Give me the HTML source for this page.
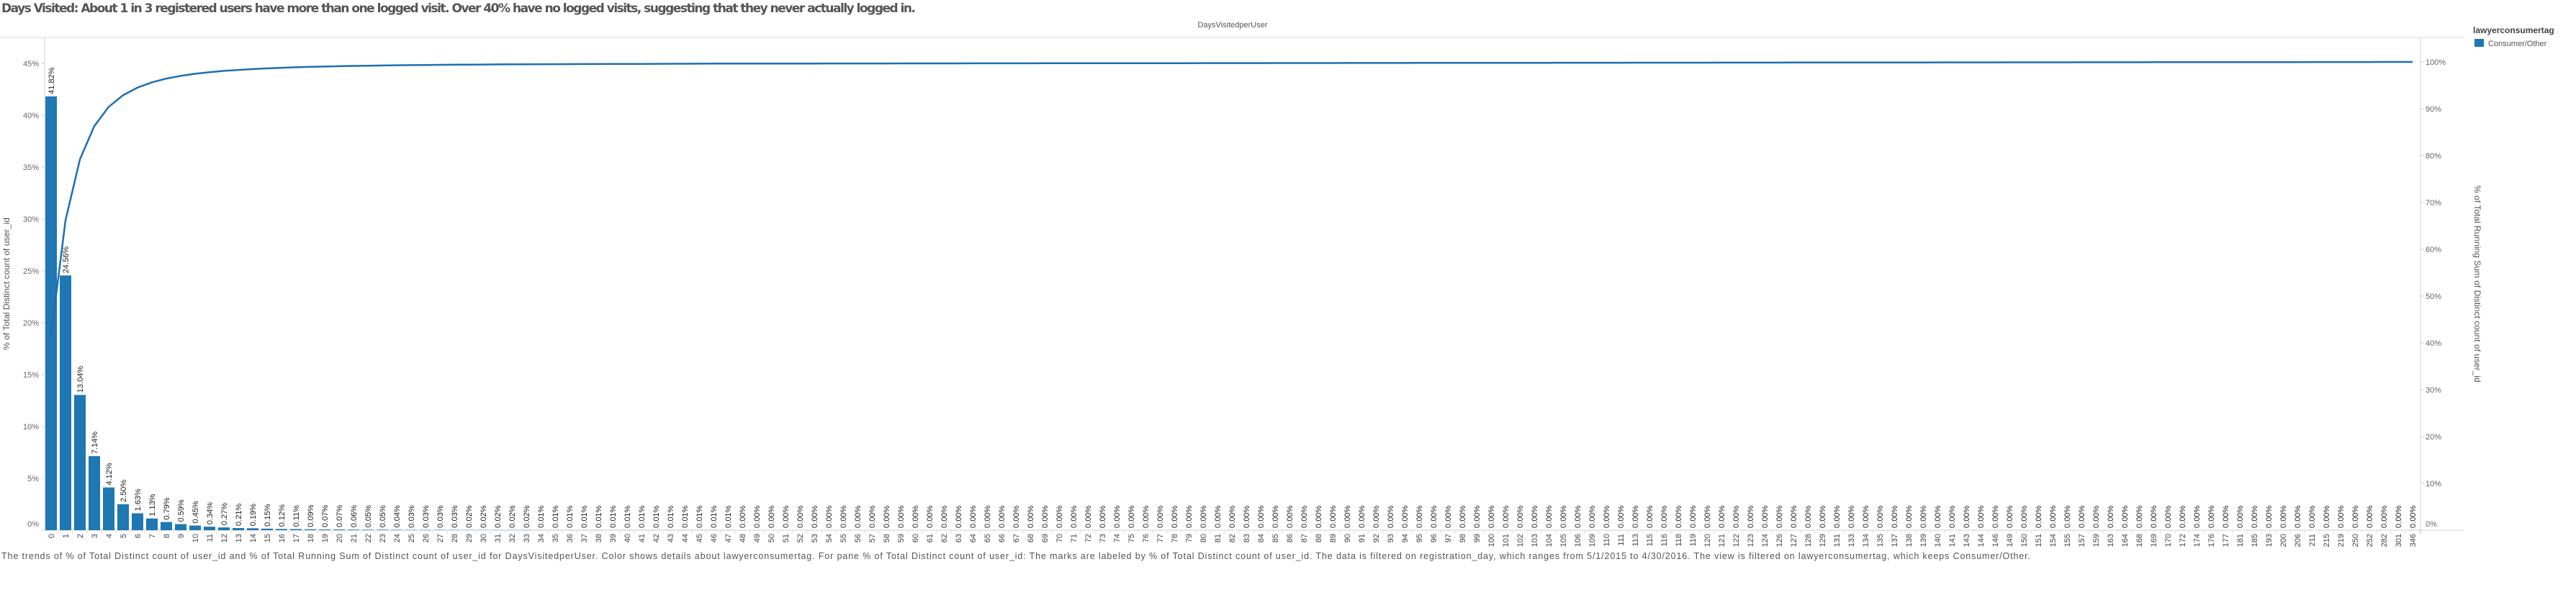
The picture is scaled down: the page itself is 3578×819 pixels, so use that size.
<!DOCTYPE html>
<html><head><meta charset="utf-8"><style>
body{margin:0;background:#fff;}
svg text{font-family:"Liberation Sans",sans-serif;}
</style></head><body>
<svg id="chart" width="3578" height="814" xmlns="http://www.w3.org/2000/svg">
<text x="2" y="17" font-size="17" font-weight="bold" fill="#555" style="font-family:'DejaVu Sans',sans-serif" textLength="1270">Days Visited: About 1 in 3 registered users have more than one logged visit.  Over 40% have no logged visits, suggesting that they never actually logged in.</text>
<text x="1712" y="38" font-size="11" fill="#555" text-anchor="middle">DaysVisitedperUser</text>
<line x1="0" y1="52" x2="3423" y2="52" stroke="#d4d4d4"/>
<line x1="62" y1="52" x2="62" y2="736" stroke="#d0d0d0"/>
<line x1="3362" y1="52" x2="3362" y2="740" stroke="#d0d0d0"/>
<line x1="62" y1="736" x2="3423" y2="736" stroke="#d0d0d0"/>
<text transform="translate(13,394) rotate(-90)" font-size="12" fill="#555" text-anchor="middle">% of Total Distinct count of user_id</text>
<text transform="translate(3437,394) rotate(90)" font-size="12" fill="#555" text-anchor="middle">% of Total Running Sum of Distinct count of user_id</text>
<text x="3435" y="46" font-size="12" font-weight="bold" fill="#444">lawyerconsumertag</text>
<rect x="3437" y="54" width="13" height="11" fill="#1f77b4"/>
<text x="3456" y="64" font-size="11" fill="#555">Consumer/Other</text>
<text x="2" y="776" font-size="12.5" fill="#555" textLength="2818" lengthAdjust="spacing">The trends of % of Total Distinct count of user_id and % of Total Running Sum of Distinct count of user_id for DaysVisitedperUser.  Color shows details about lawyerconsumertag.  For pane % of Total Distinct count of user_id:  The marks are labeled by % of Total Distinct count of user_id. The data is filtered on registration_day, which ranges from 5/1/2015 to 4/30/2016. The view is filtered on lawyerconsumertag, which keeps Consumer/Other.</text>
<g id="marks"></g>
</svg>
<script>
const categories = [];
for (let i = 0; i <= 106; i++) categories.push(String(i));
const tailCategories = ["109","110","111","113","115","116","118","119","120","121","122","123","124","126","127","128","129","131","133","134","135","137","138","139","140","141","143","144","146","149","150","151","154","155","157","159","163","164","168","169","170","172","174","176","177","181","185","193","200","206","211","215","219","250","252","282","301","346"];
tailCategories.forEach(c => categories.push(c));
const headValues = [41.82,24.56,13.04,7.14,4.12,2.50,1.63,1.13,0.79,0.59,0.45,0.34,0.27,0.21,0.19,0.15,0.12,0.11,0.09,0.07,0.07,0.06,0.05,0.05,0.04,0.03,0.03,0.03,0.03,0.02,0.02,0.02,0.02,0.02,0.01,0.01,0.01,0.01,0.01,0.01,0.01,0.01,0.01,0.01,0.01,0.01,0.01,0.01];
const smallValue = 0.003;
const leftTicks = [0,5,10,15,20,25,30,35,40,45];
const rightTicks = [0,10,20,30,40,50,60,70,80,90,100];

const values = categories.map((c, i) => i < headValues.length ? headValues[i] : smallValue);
const NS = "http://www.w3.org/2000/svg";
const g = document.getElementById("marks");
const x0 = 62, step = 20, barW = 16, baseY = 736;
const xCenter = i => x0 + 9 + i * step;
const yLeft = v => baseY - v * 14.4;
const yRight = v => baseY - v * 6.5;
function mk(tag, attrs, text) {
  const e = document.createElementNS(NS, tag);
  for (const k in attrs) e.setAttribute(k, attrs[k]);
  if (text !== undefined) e.textContent = text;
  g.appendChild(e);
  return e;
}
leftTicks.forEach(t => {
  const y = yLeft(t);
  const tk = mk("line", {x1: 57, x2: 62, y1: y, y2: y, stroke: "#ccc"});
  
  
  const lb = mk("text", {x: 54, y: (t === 0 ? y - 5 : y + 4), "font-size": 11, fill: "#666", "text-anchor": "end"}, t + "%");
  
  
});
rightTicks.forEach(t => {
  const y = yRight(t);
  const tk = mk("line", {x1: 3362, x2: 3367, y1: y, y2: y, stroke: "#ccc"});
  
  
  const lb = mk("text", {x: 3369, y: (t === 0 ? y - 5 : y + 4), "font-size": 11, fill: "#666"}, t + "%");
  
  
});
const total = values.reduce((a, b) => a + b, 0);
let cum = 0;
const pts = [];
values.forEach((v, i) => {
  const cx = xCenter(i);
  const top = yLeft(v);
  const bar = mk("rect", {x: cx - barW / 2, y: top, width: barW, height: baseY - top, fill: "#1f77b4"});
  
  
  const vl = mk("text", {transform: `translate(${cx + 4},${top - 3}) rotate(-90)`, "font-size": 11, fill: "#222"}, (i < headValues.length ? v : 0).toFixed(2) + "%");
  
  
  const ct = mk("text", {transform: `translate(${cx + 4},741) rotate(-90)`, "font-size": 11, fill: "#444", "text-anchor": "end"}, categories[i]);
  
  
  const tk = mk("line", {x1: cx + 10, x2: cx + 10, y1: baseY, y2: baseY + 5, stroke: "#ddd"});
  
  
  cum += v;
  pts.push(cx + "," + yRight(cum / total * 100).toFixed(1));
});
const line = mk("polyline", {points: pts.join(" "), fill: "none", stroke: "#1f6fb0", "stroke-width": 2.5, "stroke-linejoin": "round"});


</script>
</body></html>
